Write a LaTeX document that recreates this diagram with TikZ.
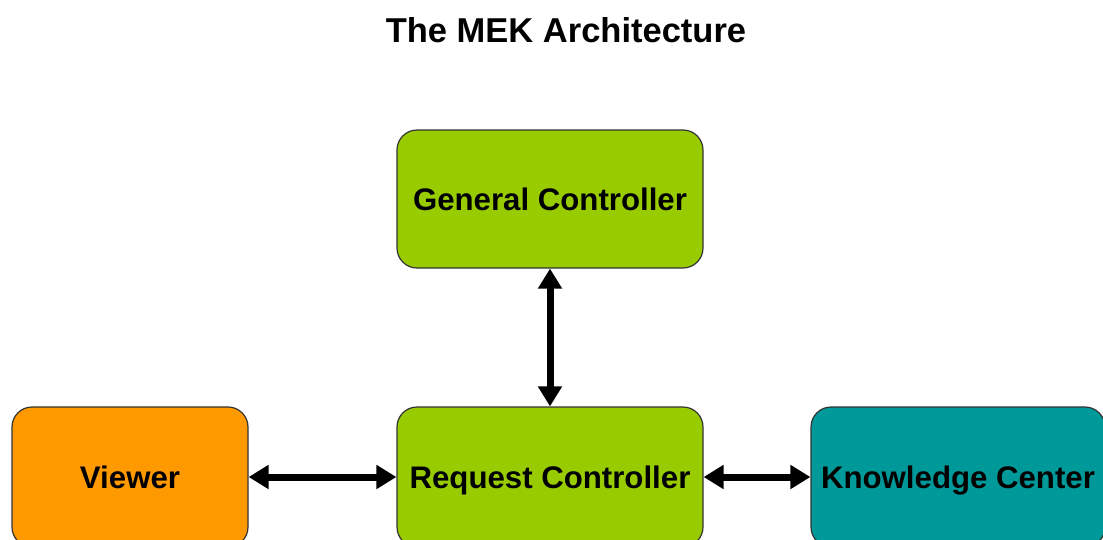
\documentclass[tikz,border=0pt]{standalone}
\usepackage{fontspec}
\setmainfont{Liberation Sans}
\usetikzlibrary{arrows.meta}
\definecolor{mekgreen}{HTML}{99CC00}
\definecolor{mekorange}{HTML}{FF9900}
\definecolor{mekteal}{HTML}{009999}

\begin{document}
\begin{tikzpicture}[
			x=1pt, y=-1pt,
			box/.style={draw=black!80, line width=1.2pt, rounded corners=20pt,
				inner sep=0pt, text height=25pt, text depth=2.4pt,
				font=\bfseries\fontsize{31.2}{36}\selectfont},
			link/.style={line width=7pt,
				{Triangle[width=23pt,length=20pt]}-{Triangle[width=23pt,length=20pt]}}
		]
			\useasboundingbox (0,0) rectangle (1103,539);
			\node[font=\bfseries\fontsize{34.5}{40}\selectfont] (title) at (566,30) {The MEK Architecture};
			% the four parts
			\node[box, fill=mekgreen, minimum width=306pt, minimum height=138pt] (gc) at (550,199) {General Controller};
			\node[box, fill=mekgreen, minimum width=306pt, minimum height=140pt] (rc) at (550,477) {Request Controller};
			\node[box, fill=mekorange, minimum width=236pt, minimum height=140pt] (vw) at (130,477) {Viewer};
			\node[box, fill=mekteal, minimum width=294pt, minimum height=140pt] (kc) at (958,477) {Knowledge Center};
			% links between them
			\draw[link] (gc) -- (rc);
			\draw[link] (vw) -- (rc);
			\draw[link] (rc) -- (kc);
		\end{tikzpicture}
\end{document}
